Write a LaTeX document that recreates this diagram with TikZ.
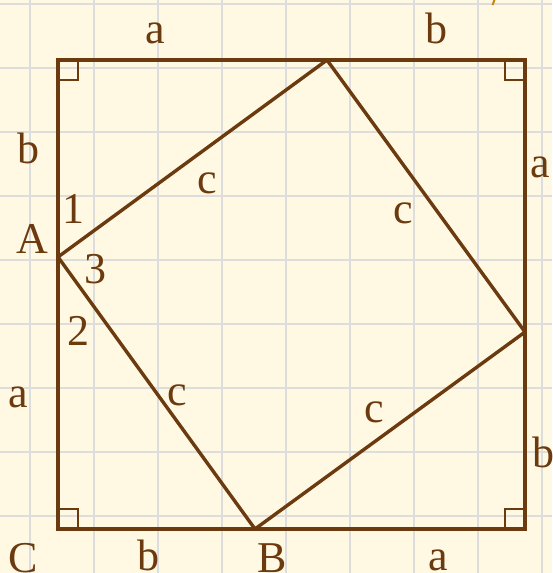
\documentclass[tikz,border=0pt]{standalone}
\usepackage{fontspec}
\setmainfont{Liberation Serif}
\definecolor{brn}{HTML}{6B3A0E}
\definecolor{bgc}{HTML}{FFF8E3}
\definecolor{gridc}{HTML}{DDDDDD}
\definecolor{gold}{HTML}{C8870A}
\begin{document}
\begin{tikzpicture}[x=1pt,y=-1pt,
  lbl/.style={text=brn, font=\fontsize{44}{44}\selectfont, anchor=base, inner sep=0pt},
  outer/.style={draw=brn, line width=3.8pt, line join=miter},
  innersq/.style={draw=brn, line width=3.4pt, line join=round},
  ramark/.style={draw=brn, line width=1.6pt},
  gridline/.style={draw=gridc, line width=2pt}]
\fill[bgc] (0,0) rectangle (552,573);
\useasboundingbox (0,0) rectangle (552,573);
\foreach \x in {30,94,...,542} \draw[gridline] (\x,0) -- (\x,573);
\foreach \y in {4,68,...,516} \draw[gridline] (0,\y) -- (552,\y);
% corners
\coordinate (TL) at (58,60);
\coordinate (TR) at (525,60);
\coordinate (BR) at (525,529);
\coordinate (C) at (58,529);
% inner vertices
\coordinate (T) at (327,60);
\coordinate (R) at (525,332);
\coordinate (B) at (255,529);
\coordinate (A) at (58,257);
% right angle marks
\draw[ramark] (TL) ++(20,0) -- ++(0,20) -- ++(-20,0);
\draw[ramark] (TR) ++(-20,0) -- ++(0,20) -- ++(20,0);
\draw[ramark] (C) ++(20,0) -- ++(0,-20) -- ++(-20,0);
\draw[ramark] (BR) ++(-20,0) -- ++(0,-20) -- ++(20,0);
% squares
\draw[outer] (TL) -- (TR) -- (BR) -- (C) -- cycle;
\draw[innersq] (T) -- (R) -- (B) -- (A) -- cycle;
% small mark at top
\coordinate (m1) at (494.5,0);
\coordinate (m2) at (492.5,5);
\draw[gold, line width=2pt] (m1) -- (m2);
% labels
\node[lbl] (la1) at (155,43) {a};
\node[lbl] (lb1) at (436,43) {b};
\node[lbl] (lb2) at (28,163) {b};
\node[lbl] (l1) at (73,223) {1};
\node[lbl] (lA) at (32,253) {A};
\node[lbl] (l3) at (95,283) {3};
\node[lbl] (lc1) at (207,193) {c};
\node[lbl] (lc2) at (403,223) {c};
\node[lbl] (la2) at (540,177) {a};
\node[lbl] (l2) at (78,345) {2};
\node[lbl] (la3) at (18,407) {a};
\node[lbl] (lc3) at (177,405) {c};
\node[lbl] (lC) at (23,572) {C};
\node[lbl] (lb3) at (148,570) {b};
\node[lbl] (lB) at (272,572) {B};
\node[lbl] (lc4) at (374,422) {c};
\node[lbl] (lb4) at (543,467) {b};
\node[lbl] (la4) at (438,570) {a};
\end{tikzpicture}
\end{document}
